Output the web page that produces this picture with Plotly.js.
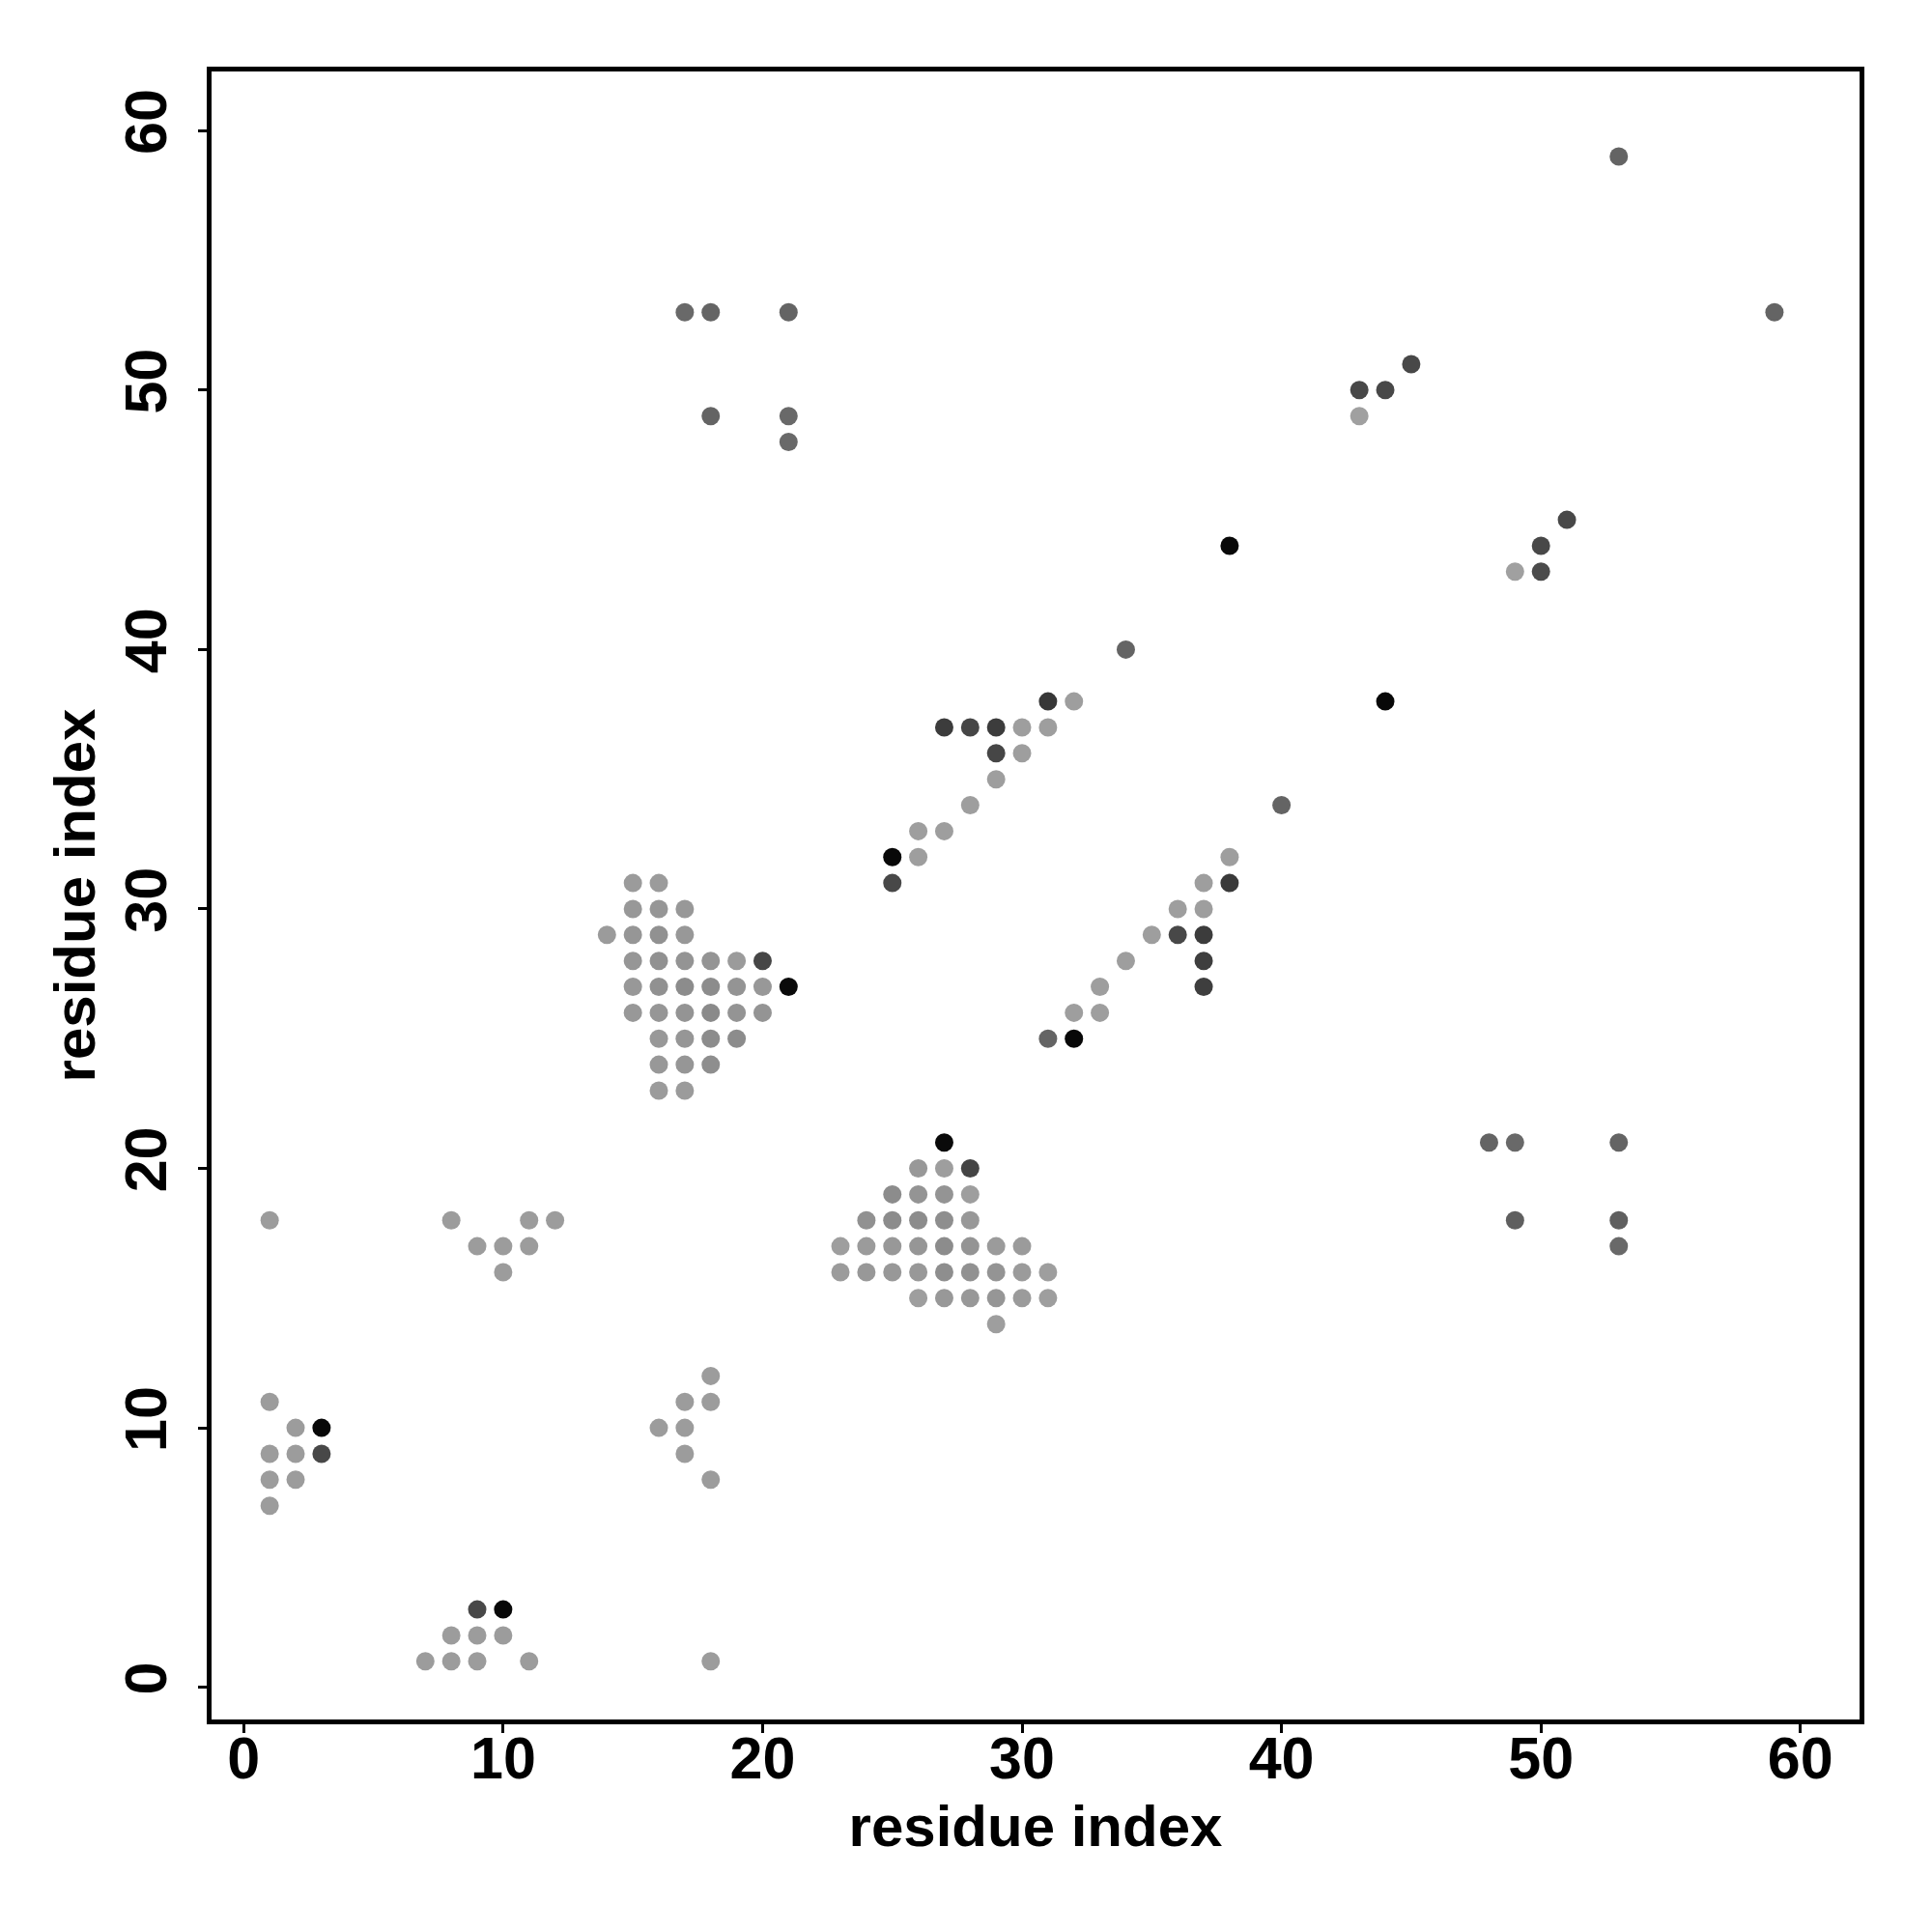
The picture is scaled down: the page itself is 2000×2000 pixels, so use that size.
<!DOCTYPE html>
<html>
<head>
<meta charset="utf-8">
<script src="https://cdn.plot.ly/plotly-3.0.1.min.js"></script>
<style>body{margin:0;background:#fff}</style>
</head>
<body>
<div id="chart" style="width:2000px;height:2000px"></div>
<script>
// residue i, residue j, grey level (0 = black, 255 = white)
const resI = [
  1, 1,2,3,1,2,3,1,2,1,
  7,8,9,11,8,9,10,9,10,18,
  8,9,10,10,11,11,12,
  16,17,17,18,18,17,18,
  15,16, 15,16,17, 14,15,16,17, 15,16,17,18,19,20, 15,16,17,18,19,20,21, 15,16,17,18,19,20, 16,17,18,19, 16,17,18, 16,17,
  27, 26,27,28, 25,26,27,28, 24,25,26,27,28, 23,24,25,26,27,28,29,30, 23,24,25,26,27,28,29,30,31, 26,27,28,29,30,31, 29,
  25,25,26,26,27,28,29,29,30,27,28,29,30,31,31,32,34,
  31,32,32,33,33,34,35,36,36,37,37,37,37,37,38,38,40,
  17,18,21,18,21,21,
  38,44,
  43,44,45,43, 49,50,50,51,
  53,59,
  48,49,49,53,53,53
];
const resJ = [
  18, 11,10,10,9,9,9,8,8,7,
  1,1,1,1,2,2,2,3,3,1,
  18,17,17,16,17,18,18,
  10,10,11,11,12,9,8,
  31,31, 30,30,30, 29,29,29,29, 28,28,28,28,28,28, 27,27,27,27,27,27,27, 26,26,26,26,26,26, 25,25,25,25, 24,24,24, 23,23,
  21, 20,20,20, 19,19,19,19, 18,18,18,18,18, 17,17,17,17,17,17,17,17, 16,16,16,16,16,16,16,16,16, 15,15,15,15,15,15, 14,
  32,31,33,32,33,34,35,36,36,37,37,37,37,37,38,38,40,
  25,25,26,26,27,28,29,29,30,30,31,29,28,27,31,32,34,
  53,53,53,49,49,48,
  44,38,
  50,50,51,49, 43,43,44,45,
  59,53,
  21,21,18,21,18,17
];
const grey = [
  156, 156,156,8,156,156,72,156,156,156,
  156,156,156,156,156,156,156,72,8,156,
  156,156,156,156,156,156,156,
  156,156,156,156,156,156,156,
  155,155, 152,150,152, 155,150,145,152, 150,145,148,148,155,70, 152,145,140,140,148,152,10, 152,150,148,138,148,148, 152,150,140,140, 152,150,142, 155,155,
  10, 152,158,68, 140,148,148,158, 145,140,140,142,152, 158,155,152,150,140,148,155,155, 155,152,152,152,142,145,148,155,158, 158,152,152,150,155,158, 158,
  8,72,158,158,158,158,158,70,158,60,70,60,158,158,55,158,100,
  100,8,158,158,158,158,158,72,158,158,158,60,62,62,58,158,100,
  105,100,100,100,105,105,
  8,8,
  72,72,72,160, 160,75,72,72,
  100,100,
  100,105,95,100,95,105
];

const font = {family: 'Liberation Sans, Arial, Helvetica, sans-serif', color: '#000', weight: 'bold'};

const trace = {
  type: 'scatter',
  mode: 'markers',
  x: resI,
  y: resJ,
  marker: {
    size: 19,
    color: grey,
    cmin: 0,
    cmax: 255,
    colorscale: [[0, 'rgb(0,0,0)'], [1, 'rgb(255,255,255)']],
    showscale: false,
    line: {width: 0}
  },
  hoverinfo: 'x+y'
};

const axisCommon = {
  range: [-1.24, 62.28],
  tickmode: 'linear',
  tick0: 0,
  dtick: 10,
  showgrid: false,
  zeroline: false,
  showline: true,
  mirror: true,
  linecolor: '#000',
  linewidth: 5,
  ticks: 'outside',
  ticklen: 9,
  tickwidth: 3,
  tickcolor: '#000',
  tickfont: Object.assign({}, font, {size: 61})
};

const layout = {
  width: 2000,
  height: 2000,
  margin: {l: 219, r: 75, t: 74, b: 220},
  paper_bgcolor: '#fff',
  plot_bgcolor: '#fff',
  showlegend: false,
  font: font,
  xaxis: Object.assign({}, axisCommon, {
    ticklabelstandoff: -26,
    title: {text: 'residue index', font: Object.assign({}, font, {size: 60}), standoff: 17}
  }),
  yaxis: Object.assign({}, axisCommon, {
    tickangle: -90,
    ticklabelstandoff: 9,
    title: {text: 'residue index', font: Object.assign({}, font, {size: 60}), standoff: 0}
  })
};

Plotly.newPlot('chart', [trace], layout, {displayModeBar: false, staticPlot: true});
</script>
</body>
</html>
